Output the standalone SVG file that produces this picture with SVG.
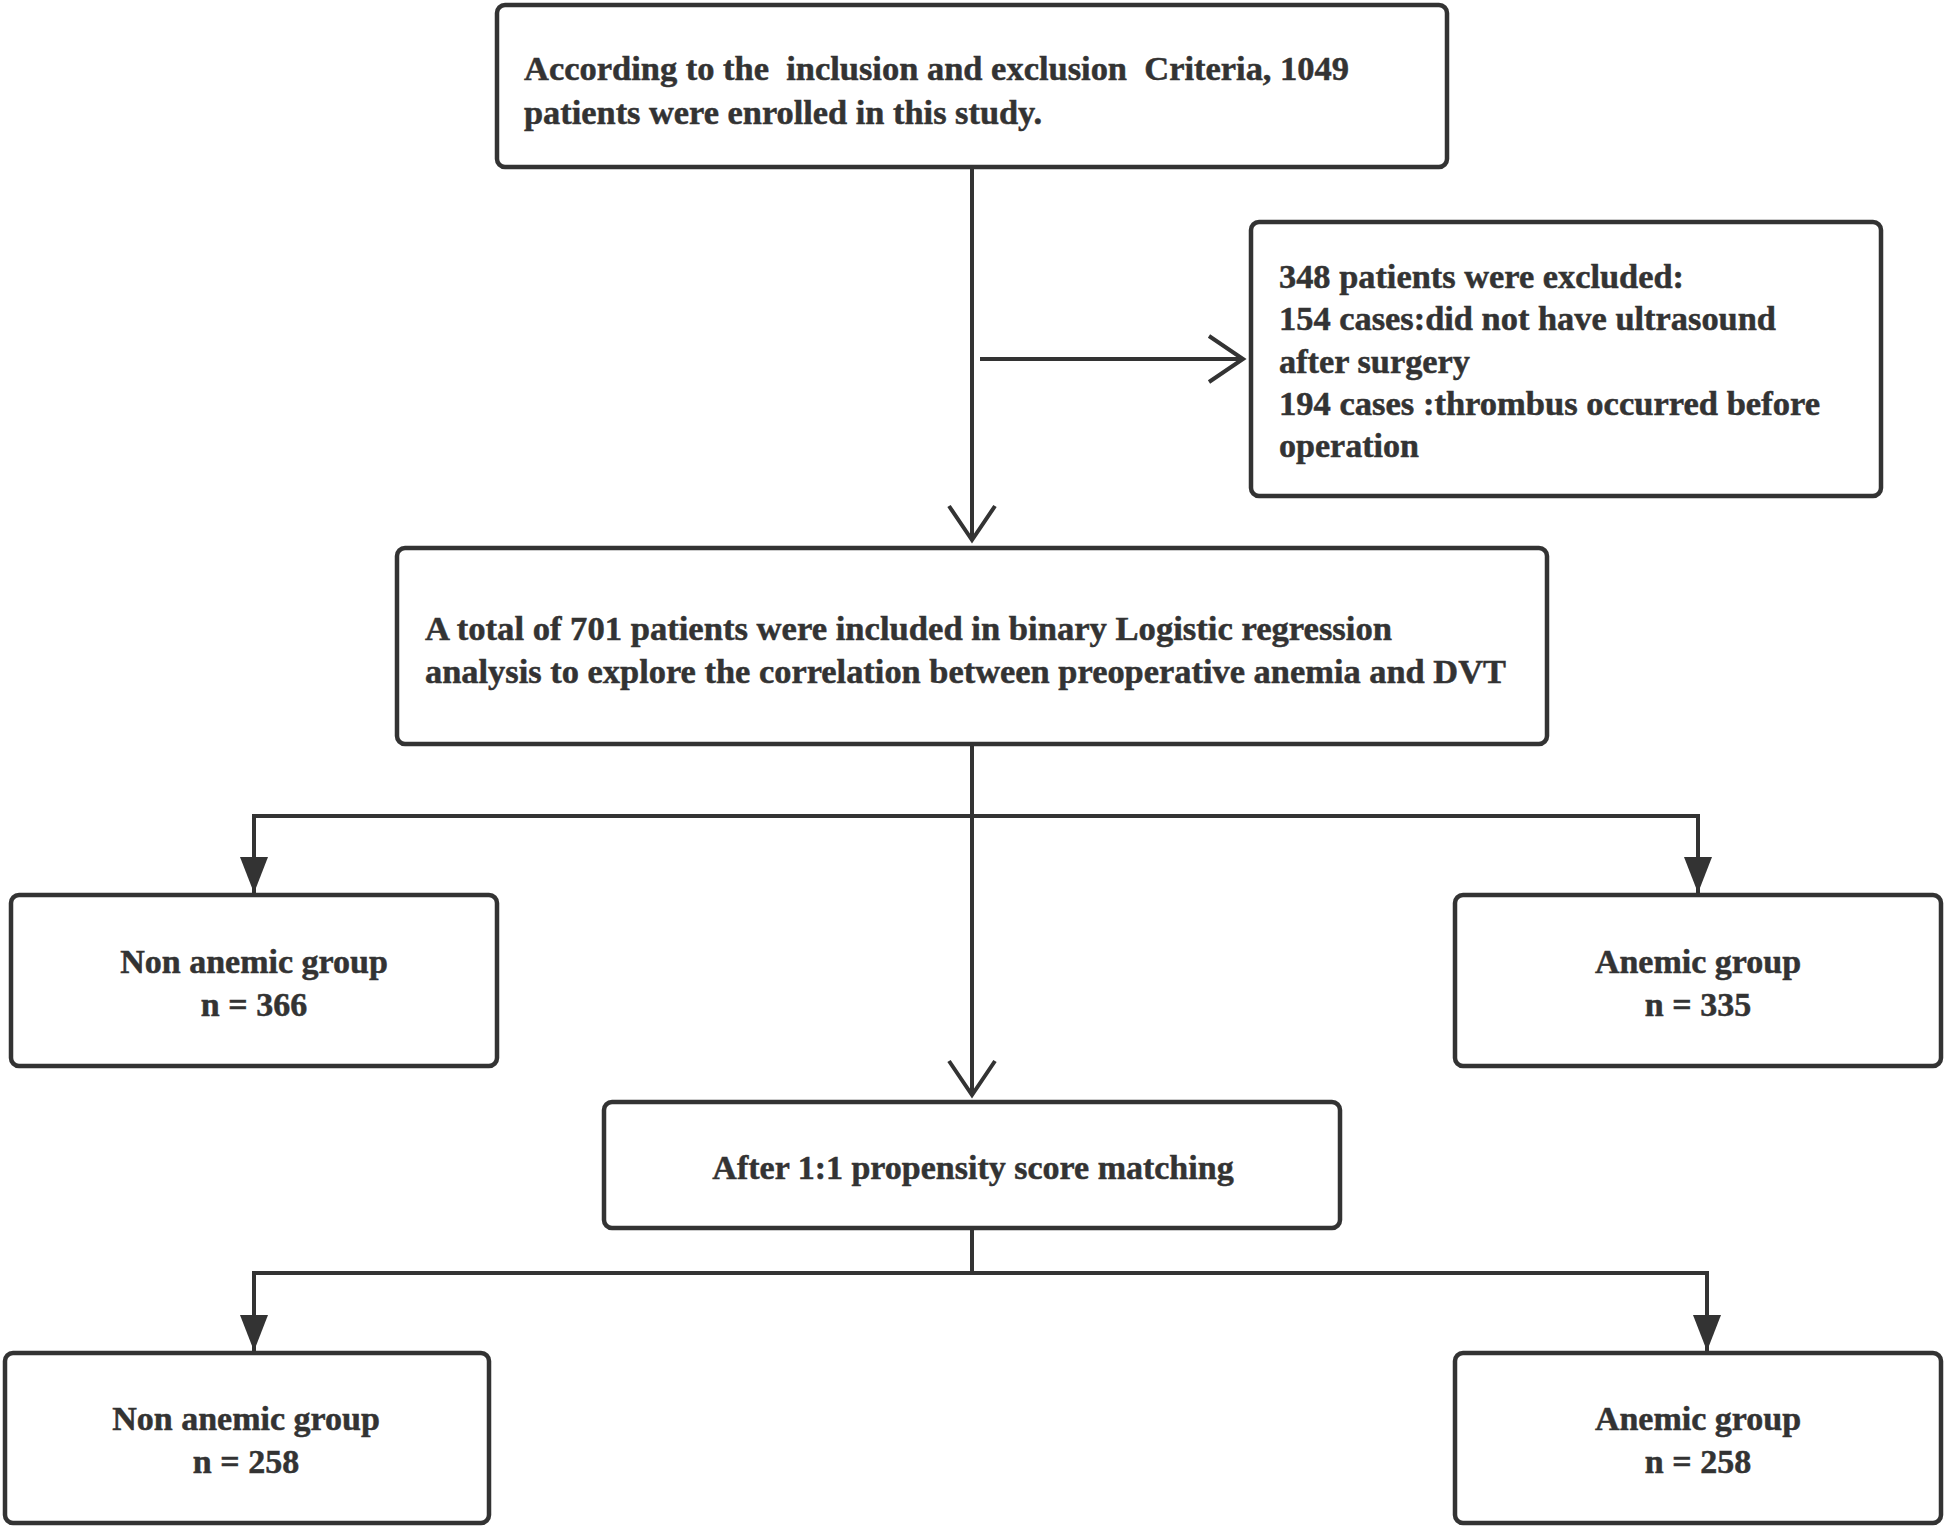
<svg xmlns="http://www.w3.org/2000/svg" width="1944" height="1528" viewBox="0 0 1944 1528">
<style>
.box{fill:#fff;stroke:#333;stroke-width:4.5}
.t{font-family:"Liberation Serif","Times New Roman",serif;font-weight:bold;font-size:34px;fill:#333;stroke:#333;stroke-width:0.5}
.c{text-anchor:middle}
.ln{fill:none;stroke:#333;stroke-width:4}
</style>
<defs>
<marker id="open" markerUnits="userSpaceOnUse" markerWidth="50" markerHeight="60" viewBox="-40 -30 50 60" refX="0" refY="0" orient="auto">
<path d="M-34,-23 L0,0 L-34,23" fill="none" stroke="#333" stroke-width="4"/>
</marker>
<marker id="fill" markerUnits="userSpaceOnUse" markerWidth="50" markerHeight="40" viewBox="-40 -20 50 40" refX="0" refY="0" orient="auto">
<path d="M-36,-14 L0,0 L-36,14 Z" fill="#333"/>
</marker>
</defs>
<rect width="1944" height="1528" fill="#fff"/>
<g id="connectors">
<path class="ln" d="M972,167 L972,540" marker-end="url(#open)"/>
<path class="ln" d="M980,359 L1243,359" marker-end="url(#open)"/>
<path class="ln" d="M972,744 L972,1095" marker-end="url(#open)"/>
<path class="ln" d="M972,816 L254,816 L254,893" marker-end="url(#fill)"/>
<path class="ln" d="M972,816 L1698,816 L1698,893" marker-end="url(#fill)"/>
<path class="ln" d="M972,1228 L972,1273"/>
<path class="ln" d="M972,1273 L254,1273 L254,1351" marker-end="url(#fill)"/>
<path class="ln" d="M972,1273 L1707,1273 L1707,1351" marker-end="url(#fill)"/>
</g>
<g id="enrolled">
<rect class="box" x="497" y="5" width="950" height="162" rx="8"/>
<text class="t" x="524" y="80" xml:space="preserve" textLength="825" lengthAdjust="spacingAndGlyphs">According to the  inclusion and exclusion  Criteria, 1049</text>
<text class="t" x="524" y="124" textLength="518" lengthAdjust="spacingAndGlyphs">patients were enrolled in this study.</text>
</g>
<g id="excluded">
<rect class="box" x="1251" y="222" width="630" height="274" rx="8"/>
<text class="t" x="1279" y="288" textLength="405" lengthAdjust="spacingAndGlyphs">348 patients were excluded:</text>
<text class="t" x="1279" y="330" textLength="497" lengthAdjust="spacingAndGlyphs">154 cases:did not have ultrasound</text>
<text class="t" x="1279" y="373" textLength="191" lengthAdjust="spacingAndGlyphs">after surgery</text>
<text class="t" x="1279" y="415" textLength="541" lengthAdjust="spacingAndGlyphs">194 cases :thrombus occurred before</text>
<text class="t" x="1279" y="457" textLength="140" lengthAdjust="spacingAndGlyphs">operation</text>
</g>
<g id="included">
<rect class="box" x="397" y="548" width="1150" height="196" rx="8"/>
<text class="t" x="425" y="640" textLength="967" lengthAdjust="spacingAndGlyphs">A total of 701 patients were included in binary Logistic regression</text>
<text class="t" x="425" y="683" textLength="1081" lengthAdjust="spacingAndGlyphs">analysis to explore the correlation between preoperative anemia and DVT</text>
</g>
<g id="nonanemic1">
<rect class="box" x="11" y="895" width="486" height="171" rx="8"/>
<text class="t c" x="254" y="973">Non anemic group</text>
<text class="t c" x="254" y="1016">n = 366</text>
</g>
<g id="anemic1">
<rect class="box" x="1455" y="895" width="486" height="171" rx="8"/>
<text class="t c" x="1698" y="973">Anemic group</text>
<text class="t c" x="1698" y="1016">n = 335</text>
</g>
<g id="psm">
<rect class="box" x="604" y="1102" width="736" height="126" rx="8"/>
<text class="t c" x="973" y="1179">After 1:1 propensity score matching</text>
</g>
<g id="nonanemic2">
<rect class="box" x="5" y="1353" width="484" height="170" rx="8"/>
<text class="t c" x="246" y="1430">Non anemic group</text>
<text class="t c" x="246" y="1473">n = 258</text>
</g>
<g id="anemic2">
<rect class="box" x="1455" y="1353" width="486" height="170" rx="8"/>
<text class="t c" x="1698" y="1430">Anemic group</text>
<text class="t c" x="1698" y="1473">n = 258</text>
</g>
</svg>
